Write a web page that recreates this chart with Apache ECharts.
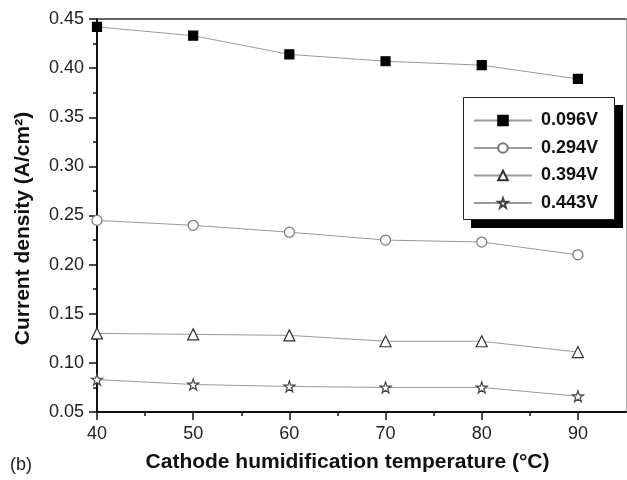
<!DOCTYPE html>
<html>
<head>
<meta charset="utf-8">
<script src="https://cdn.jsdelivr.net/npm/echarts@6/dist/echarts.min.js"></script>
<style>html,body{margin:0;padding:0;background:#fff;}#c{width:627px;height:480px;}</style>
</head>
<body>
<div id="c"></div>
<script>
const temps = [40, 50, 60, 70, 80, 90];
const seriesNames = ['0.096V', '0.294V', '0.394V', '0.443V'];
const v096 = [0.442, 0.433, 0.414, 0.407, 0.403, 0.389];
const v294 = [0.245, 0.240, 0.233, 0.225, 0.223, 0.210];
const v394 = [0.130, 0.129, 0.128, 0.122, 0.122, 0.111];
const v443 = [0.083, 0.078, 0.076, 0.075, 0.075, 0.066];
const xMajorTicks = [40, 50, 60, 70, 80, 90];
const xMinorTicks = [45, 55, 65, 75, 85];
const xTitle = 'Cathode humidification temperature (°C)';
const yTitle = 'Current density (A/cm²)';
const panelLabel = '(b)';

const FONT = '"Liberation Sans", Arial, Helvetica, sans-serif';
const STAR = 'path://M50,2 L61.8,36.2 L97.6,36.2 L68.6,57.6 L79.6,92 L50,71 L20.4,92 L31.4,57.6 L2.4,36.2 L38.2,36.2 Z';

function pairs(vals) { return temps.map((t, i) => [t, vals[i]]); }

const styles = [
  { symbol: 'rect', size: 9, fill: '#000', border: '#000' },
  { symbol: 'circle', size: 10, fill: '#fff', border: '#777' },
  { symbol: 'triangle', size: 11, fill: '#fff', border: '#333' },
  { symbol: STAR, size: 11, fill: '#fff', border: '#444' }
];
const allVals = [v096, v294, v394, v443];

const chart = echarts.init(document.getElementById('c'), null, { renderer: 'canvas' });
chart.setOption({
  animation: false,
  backgroundColor: '#fff',
  textStyle: { fontFamily: FONT },
  title: {
    text: panelLabel, left: 5, top: 451,
    textStyle: { fontFamily: FONT, fontSize: 18, fontWeight: 'normal', color: '#222' }
  },
  grid: { left: 97, top: 19, right: 1, bottom: 68, containLabel: false },
  graphic: [
    { type: 'rect', z: 20, silent: true, shape: { x: 471, y: 105, width: 152, height: 123 }, style: { fill: '#000' } },
    { type: 'rect', z: 21, silent: true, shape: { x: 463.5, y: 97.5, width: 151, height: 122 }, style: { fill: '#fff', stroke: '#222', lineWidth: 1 } }
  ],
  legend: {
    orient: 'vertical',
    left: 463, top: 97,
    z: 30,
    data: seriesNames,
    itemWidth: 58, itemHeight: 12, itemGap: 9.5,
    padding: [14.5, 18, 9, 10],
    backgroundColor: 'transparent',
    borderWidth: 0,
    textStyle: { fontFamily: FONT, fontSize: 18, fontWeight: 'bold', color: '#111', lineHeight: 18, padding: [0, 0, 0, 4] }
  },
  xAxis: [
    {
      type: 'value', position: 'bottom', min: 40, max: 95,
      name: xTitle, nameLocation: 'middle', nameGap: 40,
      nameTextStyle: { fontFamily: FONT, fontSize: 21, fontWeight: 'bold', color: '#111', padding: [0, 28, 0, 0] },
      axisLine: { show: true, onZero: false, lineStyle: { color: '#111', width: 2 } },
      axisTick: { show: true, inside: false, length: 8, customValues: xMajorTicks, lineStyle: { color: '#111', width: 1.5 } },
      axisLabel: { customValues: xMajorTicks, margin: 13, fontFamily: FONT, fontSize: 18, color: '#222' },
      splitLine: { show: false }
    },
    {
      type: 'value', position: 'bottom', min: 40, max: 95,
      axisLine: { show: false },
      axisTick: { show: true, inside: false, length: 4, customValues: xMinorTicks, lineStyle: { color: '#111', width: 1.5 } },
      axisLabel: { show: false },
      splitLine: { show: false }
    },
    {
      type: 'value', position: 'top', min: 40, max: 95,
      axisLine: { show: true, onZero: false, lineStyle: { color: '#333', width: 1.5 } },
      axisTick: { show: false }, axisLabel: { show: false }, splitLine: { show: false }
    }
  ],
  yAxis: [
    {
      type: 'value', position: 'left', min: 0.05, max: 0.45, interval: 0.05,
      name: yTitle, nameLocation: 'middle', nameGap: 63,
      nameTextStyle: { fontFamily: FONT, fontSize: 21, fontWeight: 'bold', color: '#111', padding: [0, 26, 0, 0] },
      axisLine: { show: true, onZero: false, lineStyle: { color: '#111', width: 2 } },
      axisTick: { show: true, inside: false, length: 8, lineStyle: { color: '#111', width: 1.5 } },
      minorTick: { show: true, splitNumber: 2, length: 4, lineStyle: { color: '#111', width: 1.5 } },
      axisLabel: { margin: 13, fontFamily: FONT, fontSize: 18, color: '#222', formatter: v => v.toFixed(2) },
      splitLine: { show: false }, minorSplitLine: { show: false }
    },
    {
      type: 'value', position: 'right', min: 0.05, max: 0.45, interval: 0.05,
      axisLine: { show: true, onZero: false, lineStyle: { color: '#aaa', width: 1 } },
      axisTick: { show: false }, axisLabel: { show: false }, splitLine: { show: false }
    }
  ],
  series: seriesNames.map((name, i) => ({
    name: name,
    type: 'line',
    xAxisIndex: 0, yAxisIndex: 0,
    data: pairs(allVals[i]),
    symbol: styles[i].symbol,
    symbolSize: styles[i].size,
    showAllSymbol: true,
    clip: false,
    lineStyle: { color: '#9a9a9a', width: 1 },
    itemStyle: { color: styles[i].fill, borderColor: styles[i].border, borderWidth: 1.2, opacity: 1 },
    emphasis: { disabled: true }
  }))
});
</script>
</body>
</html>
